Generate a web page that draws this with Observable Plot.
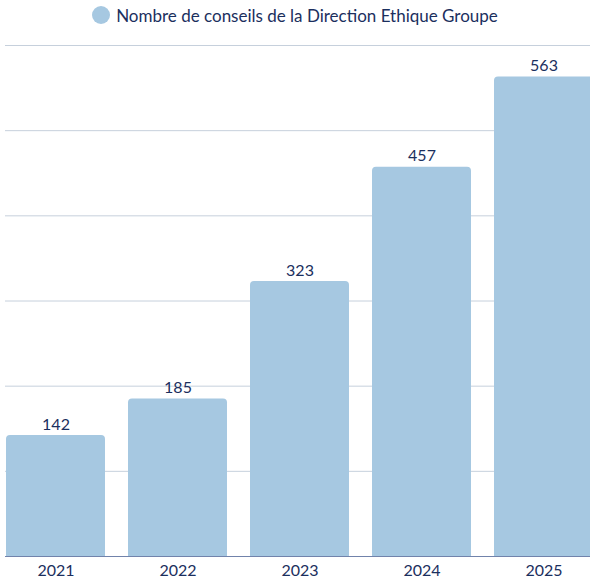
<!DOCTYPE html>
<html>
<head>
<meta charset="utf-8">
<script src="https://cdn.jsdelivr.net/npm/d3@7"></script>
<script src="https://cdn.jsdelivr.net/npm/@observablehq/plot@0.6"></script>
<style>
  html, body { margin: 0; padding: 0; background: #fff; overflow: hidden; }
  body { width: 590px; font-family: Lato, "Open Sans", sans-serif; }
  #legend { height: 30px; display: flex; align-items: center; justify-content: center; color: #1b2f5e; font-size: 17px; }
  #legend .dot { width: 18px; height: 18px; border-radius: 50%; background: #a6c8e1; margin-right: 6px; }
  #chart svg { display: block; overflow: hidden; }
</style>
</head>
<body>
<div id="legend"><span class="dot"></span><span>Nombre de conseils de la Direction Ethique Groupe</span></div>
<div id="chart"></div>
<script>
const years = ["2021", "2022", "2023", "2024", "2025"];
const counts = [142, 185, 323, 457, 563];
const gridTicks = [100, 200, 300, 400, 500, 600];
const seriesName = "Nombre de conseils de la Direction Ethique Groupe";

const data = years.map((y, i) => ({year: y, value: counts[i]}));

const chart = Plot.plot({
  width: 590,
  height: 549,
  marginTop: 15,
  marginBottom: 23,
  marginLeft: 5,
  marginRight: -4,
  style: {fontFamily: "Lato, 'Open Sans', sans-serif", fontSize: "16px", color: "#1b2f5e", background: "#fff"},
  x: {domain: years, paddingInner: 0.185, paddingOuter: 0, label: null},
  y: {domain: [0, 600], axis: null},
  marks: [
    Plot.ruleY(gridTicks, {stroke: "#c6d0dc", strokeWidth: 1}),
    Plot.ruleY([0], {stroke: "#7183ab", strokeWidth: 1}),
    Plot.barY(data, {x: "year", y: "value", fill: "#a6c8e1", ry1: 4, rx: 0}),
    Plot.text(data, {x: "year", y: "value", text: d => String(d.value), dy: -11, fill: "#1b2f5e", fontSize: 16}),
    Plot.axisX({tickSize: 0, tickPadding: 8, fontSize: 16, fill: "#1b2f5e", label: null})
  ]
});
document.getElementById("chart").appendChild(chart);
</script>
</body>
</html>
